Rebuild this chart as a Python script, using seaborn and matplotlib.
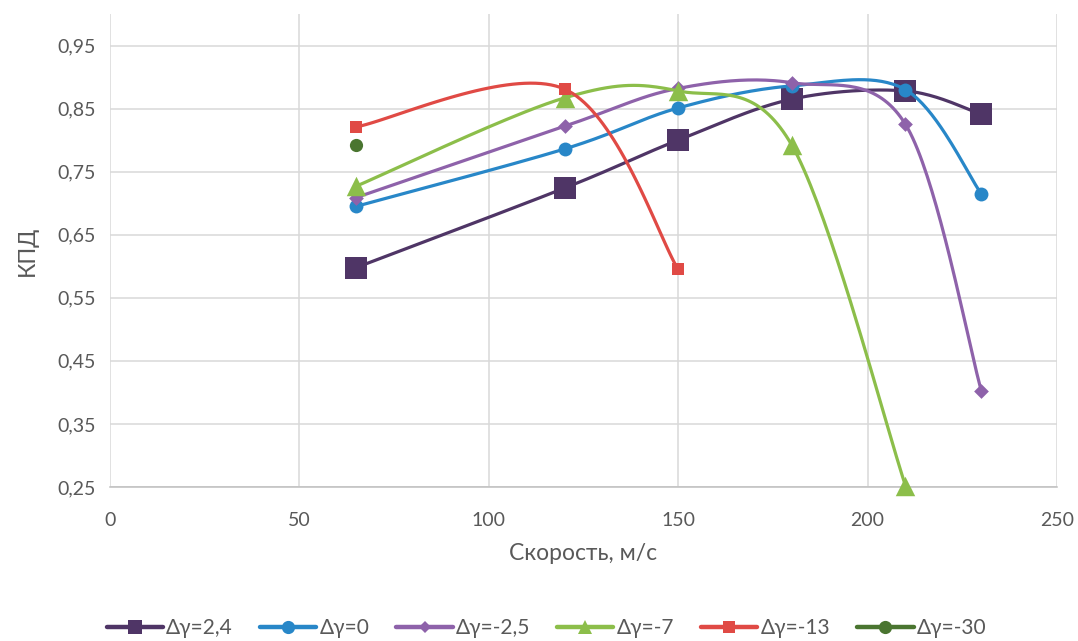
import numpy as np
import matplotlib
matplotlib.use("Agg")
import matplotlib.pyplot as plt
import seaborn as sns
import pandas as pd
from matplotlib.lines import Line2D

# ---- data ----
labels = ["Δγ=2,4", "Δγ=0", "Δγ=-2,5", "Δγ=-7", "Δγ=-13", "Δγ=-30"]
x_24 = [65, 120, 150, 180, 210, 230]
y_24 = [0.598, 0.724, 0.800, 0.865, 0.878, 0.841]
x_0 = [65, 120, 150, 180, 210, 230]
y_0 = [0.695, 0.786, 0.851, 0.886, 0.880, 0.715]
x_m25 = [65, 120, 150, 180, 210, 230]
y_m25 = [0.709, 0.822, 0.882, 0.891, 0.825, 0.403]
x_m7 = [65, 120, 150, 180, 210]
y_m7 = [0.727, 0.867, 0.878, 0.792, 0.252]
x_m13 = [65, 120, 150]
y_m13 = [0.821, 0.881, 0.595]
x_m30 = [65]
y_m30 = [0.792]

xs = [x_24, x_0, x_m25, x_m7, x_m13, x_m30]
ys = [y_24, y_0, y_m25, y_m7, y_m13, y_m30]
y_ticks = [0.25, 0.35, 0.45, 0.55, 0.65, 0.75, 0.85, 0.95]
x_ticks = [0, 50, 100, 150, 200, 250]

# ---- styles ----
colors = ["#4F3566", "#2887C8", "#8E62AA", "#8CBE4A", "#E04A45", "#4A7530"]
markers = ["s", "o", "D", "^", "s", "o"]
msizes = [16, 10, 7.5, 14, 9, 9.5]

sns.set_theme(style="white")
plt.rcParams['font.family'] = ['Lato', 'DejaVu Sans']

fig = plt.figure(figsize=(10.78, 6.41), dpi=100)
ax = fig.add_axes([110 / 1078, 1 - 487 / 641, (1057 - 110) / 1078, (487 - 14) / 641])


def smooth(x, y, n=40):
    x = np.asarray(x, float)
    y = np.asarray(y, float)
    if len(x) < 2:
        return x, y
    P = np.column_stack([x, y])
    out = [P[0:1]]
    m = len(P)
    t = np.linspace(0, 1, n)[1:, None]
    for i in range(m - 1):
        p0 = P[i - 1] if i > 0 else P[i]
        p1 = P[i]
        p2 = P[i + 1]
        p3 = P[i + 2] if i + 2 < m else P[i + 1]
        c1 = p1 + (p2 - p0) / 6
        c2 = p2 - (p3 - p1) / 6
        seg = ((1 - t) ** 3) * p1 + 3 * ((1 - t) ** 2) * t * c1 + 3 * (1 - t) * t ** 2 * c2 + t ** 3 * p2
        out.append(seg)
    Q = np.vstack(out)
    return Q[:, 0], Q[:, 1]


handles = []
for i, (xx, yy) in enumerate(zip(xs, ys)):
    sx, sy = smooth(xx, yy)
    z = 3 + i
    if len(xx) > 1:
        ax.plot(sx, sy, color=colors[i], lw=2.3, zorder=z, solid_capstyle="round",
                clip_on=False)
    df = pd.DataFrame({"x": xx, "y": yy})
    sns.scatterplot(data=df, x="x", y="y", ax=ax, marker=markers[i],
                    s=msizes[i] ** 2, color=colors[i], edgecolor=colors[i],
                    linewidth=0, zorder=z + 0.5, legend=False, clip_on=False)
    handles.append(Line2D([0], [0], color=colors[i], lw=3.2, marker=markers[i],
                          markersize=min(msizes[i], 9.5) if markers[i] != "D" else 6.5,
                          markeredgewidth=0))

ax.set_xlim(0, 250)
ax.set_ylim(0.25, 1.0)
ax.set_xticks(x_ticks)
ax.set_yticks(y_ticks)
ax.set_xticklabels([str(v) for v in x_ticks])
ax.set_yticklabels([f"{v:.2f}".replace(".", ",") for v in y_ticks])
ax.tick_params(axis="both", length=0, labelsize=14, colors="#595959", pad=10)
ax.tick_params(axis="x", pad=18)

ax.grid(True, color="#D9D9D9", lw=1.1)
ax.set_axisbelow(True)
for s in ["top", "left", "right"]:
    ax.spines[s].set_visible(False)
ax.spines["bottom"].set_color("#BFBFBF")
ax.spines["bottom"].set_linewidth(1.1)

ax.set_xlabel("Скорость, м/с", fontsize=16.5, color="#595959", labelpad=10)
ax.set_ylabel("КПД", fontsize=16.5, color="#595959", labelpad=14)

leg = fig.legend(handles, labels, loc="center", bbox_to_anchor=(0.507, 1 - 628 / 641),
                 ncol=6, frameon=False, fontsize=15, handlelength=2.7,
                 handletextpad=0.15, columnspacing=1.3)
for t in leg.get_texts():
    t.set_color("#595959")

fig.savefig("out.png", dpi=100)
